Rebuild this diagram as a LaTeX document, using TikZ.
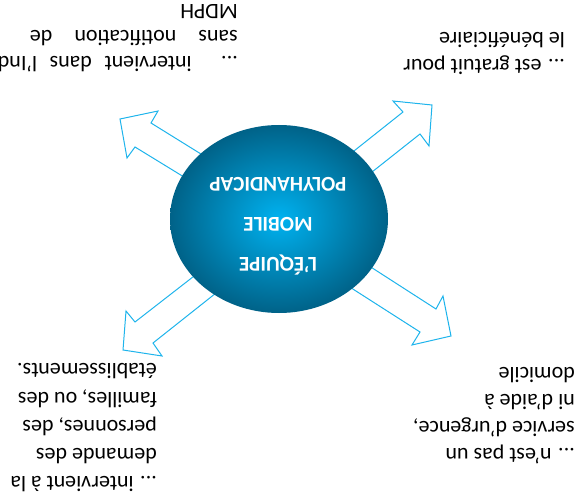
\documentclass[tikz,border=0pt]{standalone}
\usepackage{fontspec}
\setmainfont{Carlito}
\usetikzlibrary{shapes.geometric}
\definecolor{arrowline}{RGB}{30,180,236}
\definecolor{ballin}{RGB}{0,178,240}
\definecolor{ballout}{RGB}{0,98,136}
\tikzset{
  hollowarrow/.style={draw=arrowline, fill=white, line width=1pt, line join=miter},
  ltxt/.style={rotate=180, anchor=base west, inner sep=0pt, font=\fontsize{22}{27}\selectfont, text=black},
  ctxt/.style={rotate=180, anchor=center, inner sep=0pt, font=\fontsize{21}{25}\selectfont\bfseries, text=white},
  ball/.style={ellipse, minimum width=218pt, minimum height=188pt, inner sep=0pt, draw=none, inner color=ballin, outer color=ballout}
}
\begin{document}
\begin{tikzpicture}[x=1pt,y=-1pt]
\useasboundingbox (0,0) rectangle (578,500);
\clip (0,0) rectangle (578,500);
% arrows (drawn under the ball)
\draw[hollowarrow] (120,119) -- (158,111) -- (151,123) -- (230,172) -- (215,196) -- (135,147) -- (127,158) -- cycle;
\draw[hollowarrow] (432,105) -- (393,101) -- (403,112) -- (325,174) -- (343,195) -- (420,134) -- (429,146) -- cycle;
\draw[hollowarrow] (123,350) -- (126,311) -- (135,322) -- (225,252) -- (240,274) -- (153,343) -- (162,356) -- cycle;
\draw[hollowarrow] (451,336) -- (443,296) -- (436,309) -- (335,244) -- (320,268) -- (420,332) -- (412,345) -- cycle;
% central ball
\node[ball] (eq) at (279,219) {};
\node[ctxt] (t1) at (278,265) {L'ÉQUIPE};
\node[ctxt] (t2) at (278,224) {MOBILE};
\node[ctxt] (t3) at (278,184) {POLYHANDICAP};
% top-left
\node[ltxt] (a1) at (238,57) {\makebox[240pt][s]{... intervient dans l'Ind}};
\node[ltxt] (a2) at (238,31) {\makebox[208pt][s]{sans notification de}};
\node[ltxt] (a3) at (238,5) {MDPH};
% top-right
\node[ltxt] (b1) at (565,60) {... est gratuit pour};
\node[ltxt] (b2) at (565,33) {le bénéficiaire};
% bottom-left
\node[ltxt] (c1) at (157,476) {... intervient à la};
\node[ltxt] (c2) at (157,448) {demande des};
\node[ltxt] (c3) at (157,420) {personnes, des};
\node[ltxt] (c4) at (157,392) {familles, ou des};
\node[ltxt] (c5) at (157,363) {établissements.};
% bottom-right
\node[ltxt] (d1) at (575,448) {... n'est pas un};
\node[ltxt] (d2) at (575,421) {service d'urgence,};
\node[ltxt] (d3) at (575,394) {ni d'aide à};
\node[ltxt] (d4) at (575,367) {domicile};
\end{tikzpicture}
\end{document}
